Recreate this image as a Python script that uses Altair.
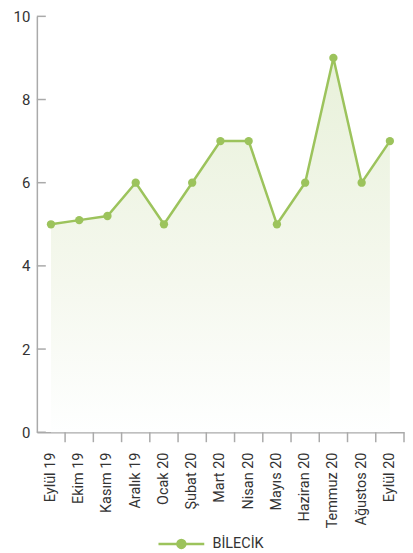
import altair as alt
import pandas as pd

months = ["Eylül 19", "Ekim 19", "Kasım 19", "Aralık 19", "Ocak 20", "Şubat 20",
          "Mart 20", "Nisan 20", "Mayıs 20", "Haziran 20", "Temmuz 20", "Ağustos 20", "Eylül 20"]
values = [5.0, 5.1, 5.2, 6.0, 5.0, 6.0, 7.0, 7.0, 5.0, 6.0, 9.0, 6.0, 7.0]
series_name = "BİLECİK"
y_ticks = [0, 2, 4, 6, 8, 10]

df = pd.DataFrame({"month": months, "value": values, "series": [series_name] * len(months)})
tick_df = pd.DataFrame({"t": y_ticks})

GREEN = "#9cc35c"
FONT = "Roboto"

x_enc = alt.X("month:N", sort=months, title=None,
              scale=alt.Scale(paddingInner=0, paddingOuter=0),
              axis=alt.Axis(labelAngle=270, labelFontSize=14.5, labelColor="#333333",
                            labelFont=FONT, ticks=False, domainColor="#aaaaaa",
                            domainWidth=1.5, labelPadding=20, labelBaseline="middle",
                            labelAlign="right"))
y_enc = alt.Y("value:Q", title=None,
              scale=alt.Scale(domain=[0, 10], nice=False),
              axis=alt.Axis(values=y_ticks, ticks=False, grid=False, labelFontSize=15,
                            labelColor="#333333", labelFont=FONT, domainColor="#aaaaaa",
                            domainWidth=1.5, labelPadding=7))

area = alt.Chart(df).mark_area(
    color=alt.Gradient(gradient="linear",
                       stops=[alt.GradientStop(color="#e8f1da", offset=0),
                              alt.GradientStop(color="#f5f8ee", offset=0.6),
                              alt.GradientStop(color="#feffff", offset=1)],
                       x1=1, x2=1, y1=0, y2=1),
    opacity=1
).encode(x=x_enc, y=y_enc)

line = alt.Chart(df).mark_line(strokeWidth=2.5).encode(
    x=alt.X("month:N", sort=months),
    y=alt.Y("value:Q"),
    color=alt.Color("series:N", scale=alt.Scale(range=[GREEN]),
                    legend=alt.Legend(title=None, orient="none", legendX=138, legendY=523,
                                      symbolType="M -4.6,0 L 4.6,0 M -0.8,0 A 0.8,0.8 0 1,1 0.8,0 A 0.8,0.8 0 1,1 -0.8,0 Z",
                                      symbolSize=100, symbolStrokeWidth=2.5,
                                      symbolFillColor=GREEN, symbolStrokeColor=GREEN,
                                      labelFontSize=14.5, labelColor="#333333", labelFont=FONT,
                                      labelOffset=24, padding=0))
)

points = alt.Chart(df).mark_circle(size=70, opacity=1, color=GREEN).encode(
    x=alt.X("month:N", sort=months),
    y=alt.Y("value:Q"),
)

xticks = alt.Chart(df).mark_rule(color="#aaaaaa", strokeWidth=1.5).encode(
    x=alt.X("month:N", sort=months, bandPosition=1),
    y=alt.value(418),
    y2=alt.value(428),
)

yticks = alt.Chart(tick_df).mark_rule(color="#aaaaaa", strokeWidth=1.5).encode(
    y=alt.Y("t:Q"),
    x=alt.value(0),
    x2=alt.value(9),
)

chart = alt.layer(area, xticks, yticks, line, points).properties(
    width=369, height=418,
    padding={"left": 5, "top": 0, "right": 0, "bottom": 0}
).configure_view(stroke=None)

chart.save("out.html", embed_options={"renderer": "svg", "actions": False})
